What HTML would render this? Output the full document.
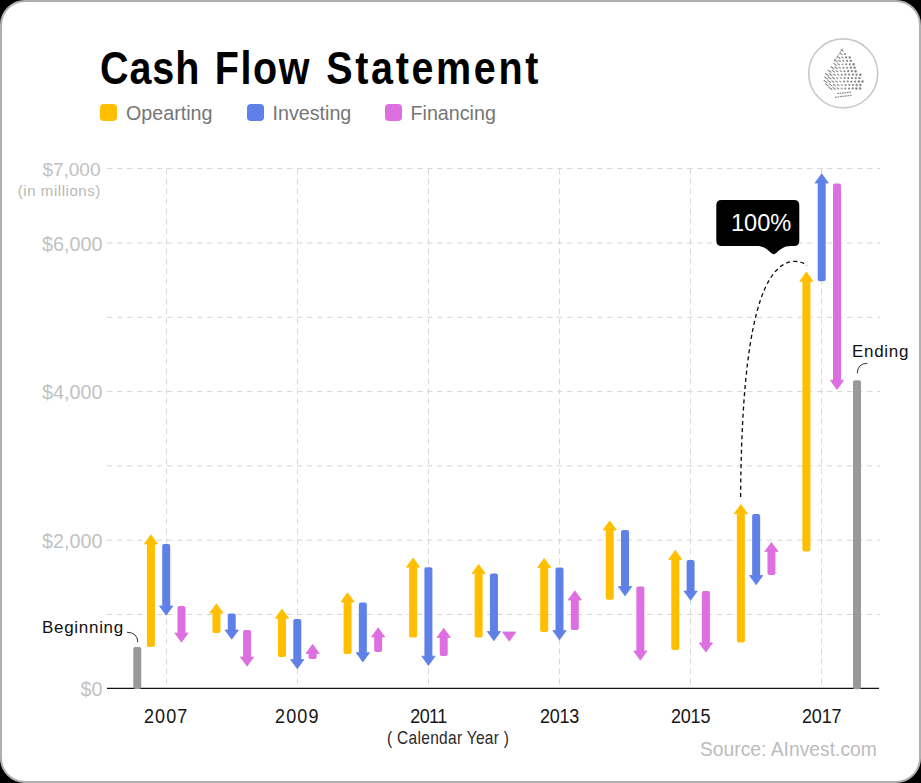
<!DOCTYPE html>
<html><head><meta charset="utf-8">
<style>
html,body{margin:0;padding:0;background:#000;}
body{width:921px;height:783px;position:relative;overflow:hidden;font-family:"Liberation Sans",sans-serif;}
.card{position:absolute;left:0;top:0;width:917px;height:779px;background:#fff;border:2px solid #b0b0b0;border-radius:25px;}
.abs{position:absolute;white-space:nowrap;line-height:1;}
svg{position:absolute;left:0;top:0;}
.title{left:100px;top:45.3px;font-size:39.5px;font-weight:bold;color:#000;letter-spacing:2.1px;transform:scaleY(1.17);transform-origin:0 0;}
.lg{position:absolute;top:103.8px;width:17.5px;height:17.3px;border-radius:4px;}
.lt{top:103.8px;font-size:19.7px;color:#767676;}
.ylab{font-size:19.8px;color:#c2c2c2;text-align:right;width:102.5px;}
.yr{position:absolute;top:705.5px;width:80px;text-align:center;font-size:18px;letter-spacing:-0.2px;color:#161616;line-height:1;transform:scaleY(1.15);transform-origin:0 0;}
</style></head><body>
<div class="card"></div>
<svg width="921" height="783" viewBox="0 0 921 783">
<line x1="107" y1="168.6" x2="880" y2="168.6" stroke="#d6d6d6" stroke-width="1" stroke-dasharray="5.5 4.5"/>
<line x1="107" y1="243.0" x2="880" y2="243.0" stroke="#d6d6d6" stroke-width="1" stroke-dasharray="5.5 4.5"/>
<line x1="107" y1="317.3" x2="880" y2="317.3" stroke="#d6d6d6" stroke-width="1" stroke-dasharray="5.5 4.5"/>
<line x1="107" y1="391.6" x2="880" y2="391.6" stroke="#d6d6d6" stroke-width="1" stroke-dasharray="5.5 4.5"/>
<line x1="107" y1="465.8" x2="880" y2="465.8" stroke="#d6d6d6" stroke-width="1" stroke-dasharray="5.5 4.5"/>
<line x1="107" y1="540.2" x2="880" y2="540.2" stroke="#d6d6d6" stroke-width="1" stroke-dasharray="5.5 4.5"/>
<line x1="107" y1="614.5" x2="880" y2="614.5" stroke="#d6d6d6" stroke-width="1" stroke-dasharray="5.5 4.5"/>
<line x1="166.50" y1="168.5" x2="166.50" y2="688" stroke="#d9d9d9" stroke-width="1" stroke-dasharray="6 4"/>
<line x1="297.50" y1="168.5" x2="297.50" y2="688" stroke="#d9d9d9" stroke-width="1" stroke-dasharray="6 4"/>
<line x1="428.50" y1="168.5" x2="428.50" y2="688" stroke="#d9d9d9" stroke-width="1" stroke-dasharray="6 4"/>
<line x1="559.50" y1="168.5" x2="559.50" y2="688" stroke="#d9d9d9" stroke-width="1" stroke-dasharray="6 4"/>
<line x1="690.50" y1="168.5" x2="690.50" y2="688" stroke="#d9d9d9" stroke-width="1" stroke-dasharray="6 4"/>
<line x1="821.50" y1="168.5" x2="821.50" y2="688" stroke="#d9d9d9" stroke-width="1" stroke-dasharray="6 4"/>
<line x1="107" y1="688.4" x2="879" y2="688.4" stroke="#111" stroke-width="1.4"/>
<rect x="133.3" y="647" width="8" height="42" rx="2" fill="#999999"/>
<rect x="853" y="380.2" width="8" height="309" rx="2" fill="#999999"/>
<rect x="146.90" y="543.00" width="8" height="104.00" rx="2" fill="#FFBF00"/>
<path d="M144.25,544.00 L157.55,544.00 L150.90,534.80 Z" fill="#FFBF00" stroke="#FFBF00" stroke-width="0.8" stroke-linejoin="round"/>
<rect x="162.20" y="544.00" width="8" height="63.00" rx="2" fill="#5F80E6"/>
<path d="M159.55,606.00 L172.85,606.00 L166.20,615.20 Z" fill="#5F80E6" stroke="#5F80E6" stroke-width="0.8" stroke-linejoin="round"/>
<rect x="177.50" y="606.00" width="8" height="28.00" rx="2" fill="#DD6FE0"/>
<path d="M174.85,633.00 L188.15,633.00 L181.50,642.20 Z" fill="#DD6FE0" stroke="#DD6FE0" stroke-width="0.8" stroke-linejoin="round"/>
<rect x="212.45" y="612.00" width="8" height="21.00" rx="2" fill="#FFBF00"/>
<path d="M209.80,613.00 L223.10,613.00 L216.45,603.80 Z" fill="#FFBF00" stroke="#FFBF00" stroke-width="0.8" stroke-linejoin="round"/>
<rect x="227.75" y="613.60" width="8" height="17.40" rx="2" fill="#5F80E6"/>
<path d="M225.10,630.00 L238.40,630.00 L231.75,639.20 Z" fill="#5F80E6" stroke="#5F80E6" stroke-width="0.8" stroke-linejoin="round"/>
<rect x="243.05" y="630.00" width="8" height="28.00" rx="2" fill="#DD6FE0"/>
<path d="M240.40,657.00 L253.70,657.00 L247.05,666.20 Z" fill="#DD6FE0" stroke="#DD6FE0" stroke-width="0.8" stroke-linejoin="round"/>
<rect x="278.00" y="617.30" width="8" height="39.70" rx="2" fill="#FFBF00"/>
<path d="M275.35,618.30 L288.65,618.30 L282.00,609.10 Z" fill="#FFBF00" stroke="#FFBF00" stroke-width="0.8" stroke-linejoin="round"/>
<rect x="293.30" y="619.00" width="8" height="41.60" rx="2" fill="#5F80E6"/>
<path d="M290.65,659.60 L303.95,659.60 L297.30,668.80 Z" fill="#5F80E6" stroke="#5F80E6" stroke-width="0.8" stroke-linejoin="round"/>
<rect x="308.60" y="652.50" width="8" height="6.50" rx="2" fill="#DD6FE0"/>
<path d="M305.95,653.50 L319.25,653.50 L312.60,644.30 Z" fill="#DD6FE0" stroke="#DD6FE0" stroke-width="0.8" stroke-linejoin="round"/>
<rect x="343.55" y="601.00" width="8" height="53.00" rx="2" fill="#FFBF00"/>
<path d="M340.90,602.00 L354.20,602.00 L347.55,592.80 Z" fill="#FFBF00" stroke="#FFBF00" stroke-width="0.8" stroke-linejoin="round"/>
<rect x="358.85" y="602.50" width="8" height="51.20" rx="2" fill="#5F80E6"/>
<path d="M356.20,652.70 L369.50,652.70 L362.85,661.90 Z" fill="#5F80E6" stroke="#5F80E6" stroke-width="0.8" stroke-linejoin="round"/>
<rect x="374.15" y="636.00" width="8" height="16.00" rx="2" fill="#DD6FE0"/>
<path d="M371.50,637.00 L384.80,637.00 L378.15,627.80 Z" fill="#DD6FE0" stroke="#DD6FE0" stroke-width="0.8" stroke-linejoin="round"/>
<rect x="409.10" y="566.20" width="8" height="71.20" rx="2" fill="#FFBF00"/>
<path d="M406.45,567.20 L419.75,567.20 L413.10,558.00 Z" fill="#FFBF00" stroke="#FFBF00" stroke-width="0.8" stroke-linejoin="round"/>
<rect x="424.40" y="567.20" width="8" height="90.00" rx="2" fill="#5F80E6"/>
<path d="M421.75,656.20 L435.05,656.20 L428.40,665.40 Z" fill="#5F80E6" stroke="#5F80E6" stroke-width="0.8" stroke-linejoin="round"/>
<rect x="439.70" y="636.40" width="8" height="19.60" rx="2" fill="#DD6FE0"/>
<path d="M437.05,637.40 L450.35,637.40 L443.70,628.20 Z" fill="#DD6FE0" stroke="#DD6FE0" stroke-width="0.8" stroke-linejoin="round"/>
<rect x="474.65" y="572.60" width="8" height="65.00" rx="2" fill="#FFBF00"/>
<path d="M472.00,573.60 L485.30,573.60 L478.65,564.40 Z" fill="#FFBF00" stroke="#FFBF00" stroke-width="0.8" stroke-linejoin="round"/>
<rect x="489.95" y="573.60" width="8" height="58.90" rx="2" fill="#5F80E6"/>
<path d="M487.30,631.50 L500.60,631.50 L493.95,640.70 Z" fill="#5F80E6" stroke="#5F80E6" stroke-width="0.8" stroke-linejoin="round"/>
<path d="M502.60,632.00 L515.90,632.00 L509.25,641.20 Z" fill="#DD6FE0" stroke="#DD6FE0" stroke-width="0.8" stroke-linejoin="round"/>
<rect x="540.20" y="566.60" width="8" height="65.40" rx="2" fill="#FFBF00"/>
<path d="M537.55,567.60 L550.85,567.60 L544.20,558.40 Z" fill="#FFBF00" stroke="#FFBF00" stroke-width="0.8" stroke-linejoin="round"/>
<rect x="555.50" y="567.60" width="8" height="64.00" rx="2" fill="#5F80E6"/>
<path d="M552.85,630.60 L566.15,630.60 L559.50,639.80 Z" fill="#5F80E6" stroke="#5F80E6" stroke-width="0.8" stroke-linejoin="round"/>
<rect x="570.80" y="599.00" width="8" height="31.00" rx="2" fill="#DD6FE0"/>
<path d="M568.15,600.00 L581.45,600.00 L574.80,590.80 Z" fill="#DD6FE0" stroke="#DD6FE0" stroke-width="0.8" stroke-linejoin="round"/>
<rect x="605.75" y="529.00" width="8" height="70.70" rx="2" fill="#FFBF00"/>
<path d="M603.10,530.00 L616.40,530.00 L609.75,520.80 Z" fill="#FFBF00" stroke="#FFBF00" stroke-width="0.8" stroke-linejoin="round"/>
<rect x="621.05" y="530.00" width="8" height="57.60" rx="2" fill="#5F80E6"/>
<path d="M618.40,586.60 L631.70,586.60 L625.05,595.80 Z" fill="#5F80E6" stroke="#5F80E6" stroke-width="0.8" stroke-linejoin="round"/>
<rect x="636.35" y="586.60" width="8" height="65.40" rx="2" fill="#DD6FE0"/>
<path d="M633.70,651.00 L647.00,651.00 L640.35,660.20 Z" fill="#DD6FE0" stroke="#DD6FE0" stroke-width="0.8" stroke-linejoin="round"/>
<rect x="671.30" y="558.40" width="8" height="91.60" rx="2" fill="#FFBF00"/>
<path d="M668.65,559.40 L681.95,559.40 L675.30,550.20 Z" fill="#FFBF00" stroke="#FFBF00" stroke-width="0.8" stroke-linejoin="round"/>
<rect x="686.60" y="560.00" width="8" height="32.10" rx="2" fill="#5F80E6"/>
<path d="M683.95,591.10 L697.25,591.10 L690.60,600.30 Z" fill="#5F80E6" stroke="#5F80E6" stroke-width="0.8" stroke-linejoin="round"/>
<rect x="701.90" y="591.10" width="8" height="52.80" rx="2" fill="#DD6FE0"/>
<path d="M699.25,642.90 L712.55,642.90 L705.90,652.10 Z" fill="#DD6FE0" stroke="#DD6FE0" stroke-width="0.8" stroke-linejoin="round"/>
<rect x="736.85" y="512.70" width="8" height="129.90" rx="2" fill="#FFBF00"/>
<path d="M734.20,513.70 L747.50,513.70 L740.85,504.50 Z" fill="#FFBF00" stroke="#FFBF00" stroke-width="0.8" stroke-linejoin="round"/>
<rect x="752.15" y="514.00" width="8" height="62.50" rx="2" fill="#5F80E6"/>
<path d="M749.50,575.50 L762.80,575.50 L756.15,584.70 Z" fill="#5F80E6" stroke="#5F80E6" stroke-width="0.8" stroke-linejoin="round"/>
<rect x="767.45" y="550.60" width="8" height="24.40" rx="2" fill="#DD6FE0"/>
<path d="M764.80,551.60 L778.10,551.60 L771.45,542.40 Z" fill="#DD6FE0" stroke="#DD6FE0" stroke-width="0.8" stroke-linejoin="round"/>
<rect x="802.40" y="280.20" width="8" height="271.30" rx="2" fill="#FFBF00"/>
<path d="M799.75,281.20 L813.05,281.20 L806.40,272.00 Z" fill="#FFBF00" stroke="#FFBF00" stroke-width="0.8" stroke-linejoin="round"/>
<rect x="817.70" y="182.00" width="8" height="99.20" rx="2" fill="#5F80E6"/>
<path d="M815.05,183.00 L828.35,183.00 L821.70,173.80 Z" fill="#5F80E6" stroke="#5F80E6" stroke-width="0.8" stroke-linejoin="round"/>
<rect x="833.00" y="183.60" width="8" height="197.60" rx="2" fill="#DD6FE0"/>
<path d="M830.35,380.20 L843.65,380.20 L837.00,389.40 Z" fill="#DD6FE0" stroke="#DD6FE0" stroke-width="0.8" stroke-linejoin="round"/>
<path d="M740.6,497 C741.5,360 755,262 795,261.3 Q802,261.5 807,265.5" fill="none" stroke="#111" stroke-width="1.35" stroke-dasharray="4 3.2"/>
<path d="M127,632.2 Q137.5,632.5 137.8,642.2" fill="none" stroke="#333" stroke-width="1"/>
<path d="M857.3,373.3 Q857.5,363.5 867.3,363.3" fill="none" stroke="#333" stroke-width="1"/>
<path d="M721.5,200 H794 Q799.3,200 799.3,205.3 V240.7 Q799.3,246 794,246 H790.5 C784,246 780,249.5 776.5,252.8 Q773.7,255.6 770.9,252.8 C767.4,249.5 763.4,246 757,246 H721.5 Q716.3,246 716.3,240.7 V205.3 Q716.3,200 721.5,200 Z" fill="#000"/>
</svg>
<div class="abs title" style="letter-spacing:0.9px">Cash</div><div class="abs title" style="left:214.8px;letter-spacing:1.57px">Flow</div><div class="abs title" style="left:326.3px;letter-spacing:2.64px">Statement</div>
<div class="lg" style="left:99.6px;background:#FFBF00"></div>
<div class="abs lt" style="left:126px">Opearting</div>
<div class="lg" style="left:246.5px;background:#5F80E6"></div>
<div class="abs lt" style="left:272.5px">Investing</div>
<div class="lg" style="left:384.5px;background:#DD6FE0"></div>
<div class="abs lt" style="left:410.5px">Financing</div>
<div class="abs ylab" style="left:0;top:159.5px;width:100.5px;font-size:19px">$7,000</div>
<div class="abs ylab" style="left:0;top:183px;width:100.8px;font-size:15px;letter-spacing:0.55px;color:#b8b8b8">(in millions)</div>
<div class="abs ylab" style="left:0;top:235px">$6,000</div>
<div class="abs ylab" style="left:0;top:383px">$4,000</div>
<div class="abs ylab" style="left:0;top:532px">$2,000</div>
<div class="abs ylab" style="left:0;top:680px">$0</div>
<div class="yr" style="left:126.2px;letter-spacing:1.1px">2007</div>
<div class="yr" style="left:257.3px;letter-spacing:1.1px">2009</div>
<div class="yr" style="left:388.4px;letter-spacing:-0.6px">2011</div>
<div class="yr" style="left:519.5px;letter-spacing:-0.2px">2013</div>
<div class="yr" style="left:650.6px;letter-spacing:-0.2px">2015</div>
<div class="yr" style="left:781.7px;letter-spacing:-0.2px">2017</div>

<div class="abs" style="left:387px;top:729.3px;font-size:15.5px;letter-spacing:0.3px;color:#2a2a2a;transform:scaleY(1.14);transform-origin:0 0">( Calendar Year )</div>
<div class="abs" style="left:700px;top:740px;font-size:19.3px;color:#bcbcbc">Source: AInvest.com</div>
<div class="abs" style="left:42px;top:619px;font-size:17px;letter-spacing:0.7px;color:#111">Beginning</div>
<div class="abs" style="left:852px;top:343px;font-size:17px;letter-spacing:0.7px;color:#111">Ending</div>
<div class="abs" style="left:731px;top:211.5px;font-size:23.6px;color:#fff">100%</div>
<svg width="921" height="783" viewBox="0 0 921 783" style="pointer-events:none">
<circle cx="843.2" cy="73.4" r="34.5" fill="none" stroke="#c9c9c9" stroke-width="1.6"/>
<line x1="841.10" y1="49.72" x2="843.31" y2="51.28" stroke="#888" stroke-width="1.1" stroke-linecap="round"/>
<line x1="840.31" y1="53.24" x2="842.33" y2="54.66" stroke="#888" stroke-width="1.1" stroke-linecap="round"/>
<circle cx="845.02" cy="53.95" r="1.07" fill="#888"/>
<line x1="837.31" y1="56.48" x2="839.95" y2="58.32" stroke="#888" stroke-width="1.1" stroke-linecap="round"/>
<line x1="841.75" y1="56.99" x2="842.91" y2="57.81" stroke="#888" stroke-width="1.1" stroke-linecap="round"/>
<circle cx="846.03" cy="57.40" r="1.08" fill="#888"/>
<circle cx="849.73" cy="57.40" r="1.21" fill="#888"/>
<line x1="834.47" y1="59.82" x2="837.42" y2="61.88" stroke="#888" stroke-width="1.1" stroke-linecap="round"/>
<line x1="838.73" y1="60.21" x2="840.56" y2="61.49" stroke="#888" stroke-width="1.1" stroke-linecap="round"/>
<circle cx="843.34" cy="60.85" r="0.99" fill="#888"/>
<circle cx="847.04" cy="60.85" r="1.09" fill="#888"/>
<circle cx="850.74" cy="60.85" r="1.19" fill="#888"/>
<line x1="833.71" y1="63.36" x2="836.40" y2="65.24" stroke="#888" stroke-width="1.1" stroke-linecap="round"/>
<line x1="837.87" y1="63.68" x2="839.65" y2="64.92" stroke="#888" stroke-width="1.1" stroke-linecap="round"/>
<line x1="842.02" y1="63.99" x2="842.89" y2="64.61" stroke="#888" stroke-width="1.1" stroke-linecap="round"/>
<circle cx="846.16" cy="64.30" r="1.05" fill="#888"/>
<circle cx="849.86" cy="64.30" r="1.14" fill="#888"/>
<circle cx="853.56" cy="64.30" r="1.22" fill="#888"/>
<line x1="830.93" y1="66.74" x2="833.81" y2="68.76" stroke="#888" stroke-width="1.1" stroke-linecap="round"/>
<line x1="835.01" y1="67.01" x2="837.13" y2="68.49" stroke="#888" stroke-width="1.1" stroke-linecap="round"/>
<line x1="839.09" y1="67.28" x2="840.44" y2="68.22" stroke="#888" stroke-width="1.1" stroke-linecap="round"/>
<circle cx="843.47" cy="67.75" r="1.00" fill="#888"/>
<circle cx="847.17" cy="67.75" r="1.07" fill="#888"/>
<circle cx="850.87" cy="67.75" r="1.14" fill="#888"/>
<circle cx="854.57" cy="67.75" r="1.21" fill="#888"/>
<line x1="828.17" y1="70.14" x2="831.19" y2="72.26" stroke="#888" stroke-width="1.1" stroke-linecap="round"/>
<line x1="832.20" y1="70.37" x2="834.56" y2="72.03" stroke="#888" stroke-width="1.1" stroke-linecap="round"/>
<line x1="836.23" y1="70.61" x2="837.93" y2="71.79" stroke="#888" stroke-width="1.1" stroke-linecap="round"/>
<line x1="840.27" y1="70.84" x2="841.30" y2="71.56" stroke="#888" stroke-width="1.1" stroke-linecap="round"/>
<circle cx="844.48" cy="71.20" r="1.02" fill="#888"/>
<circle cx="848.18" cy="71.20" r="1.08" fill="#888"/>
<circle cx="851.88" cy="71.20" r="1.14" fill="#888"/>
<circle cx="855.58" cy="71.20" r="1.20" fill="#888"/>
<line x1="825.43" y1="73.55" x2="828.56" y2="75.75" stroke="#888" stroke-width="1.1" stroke-linecap="round"/>
<line x1="829.42" y1="73.76" x2="831.97" y2="75.54" stroke="#888" stroke-width="1.1" stroke-linecap="round"/>
<line x1="833.42" y1="73.97" x2="835.37" y2="75.33" stroke="#888" stroke-width="1.1" stroke-linecap="round"/>
<line x1="837.41" y1="74.17" x2="838.78" y2="75.13" stroke="#888" stroke-width="1.1" stroke-linecap="round"/>
<circle cx="841.79" cy="74.65" r="0.98" fill="#888"/>
<circle cx="845.49" cy="74.65" r="1.03" fill="#888"/>
<circle cx="849.19" cy="74.65" r="1.09" fill="#888"/>
<circle cx="852.89" cy="74.65" r="1.14" fill="#888"/>
<circle cx="856.59" cy="74.65" r="1.19" fill="#888"/>
<circle cx="860.29" cy="74.65" r="1.25" fill="#888"/>
<line x1="824.63" y1="77.06" x2="827.59" y2="79.14" stroke="#888" stroke-width="1.1" stroke-linecap="round"/>
<line x1="828.59" y1="77.25" x2="831.02" y2="78.95" stroke="#888" stroke-width="1.1" stroke-linecap="round"/>
<line x1="832.55" y1="77.43" x2="834.46" y2="78.77" stroke="#888" stroke-width="1.1" stroke-linecap="round"/>
<line x1="836.52" y1="77.62" x2="837.89" y2="78.58" stroke="#888" stroke-width="1.1" stroke-linecap="round"/>
<line x1="840.48" y1="77.80" x2="841.33" y2="78.40" stroke="#888" stroke-width="1.1" stroke-linecap="round"/>
<circle cx="844.61" cy="78.10" r="1.02" fill="#888"/>
<circle cx="848.31" cy="78.10" r="1.07" fill="#888"/>
<circle cx="852.01" cy="78.10" r="1.12" fill="#888"/>
<circle cx="855.71" cy="78.10" r="1.17" fill="#888"/>
<circle cx="859.41" cy="78.10" r="1.21" fill="#888"/>
<line x1="824.01" y1="80.48" x2="827.05" y2="82.62" stroke="#888" stroke-width="1.1" stroke-linecap="round"/>
<line x1="827.96" y1="80.66" x2="830.50" y2="82.44" stroke="#888" stroke-width="1.1" stroke-linecap="round"/>
<line x1="831.92" y1="80.84" x2="833.94" y2="82.26" stroke="#888" stroke-width="1.1" stroke-linecap="round"/>
<line x1="835.87" y1="81.02" x2="837.39" y2="82.08" stroke="#888" stroke-width="1.1" stroke-linecap="round"/>
<line x1="839.83" y1="81.20" x2="840.83" y2="81.90" stroke="#888" stroke-width="1.1" stroke-linecap="round"/>
<circle cx="844.03" cy="81.55" r="1.00" fill="#888"/>
<circle cx="847.73" cy="81.55" r="1.05" fill="#888"/>
<circle cx="851.43" cy="81.55" r="1.10" fill="#888"/>
<circle cx="855.13" cy="81.55" r="1.14" fill="#888"/>
<circle cx="858.83" cy="81.55" r="1.19" fill="#888"/>
<circle cx="862.53" cy="81.55" r="1.24" fill="#888"/>
<line x1="825.55" y1="83.92" x2="828.65" y2="86.08" stroke="#888" stroke-width="1.1" stroke-linecap="round"/>
<line x1="829.52" y1="84.11" x2="832.08" y2="85.89" stroke="#888" stroke-width="1.1" stroke-linecap="round"/>
<line x1="833.50" y1="84.30" x2="835.50" y2="85.70" stroke="#888" stroke-width="1.1" stroke-linecap="round"/>
<line x1="837.47" y1="84.49" x2="838.93" y2="85.51" stroke="#888" stroke-width="1.1" stroke-linecap="round"/>
<line x1="841.45" y1="84.68" x2="842.35" y2="85.32" stroke="#888" stroke-width="1.1" stroke-linecap="round"/>
<circle cx="845.60" cy="85.00" r="1.02" fill="#888"/>
<circle cx="849.30" cy="85.00" r="1.07" fill="#888"/>
<circle cx="853.00" cy="85.00" r="1.12" fill="#888"/>
<circle cx="856.70" cy="85.00" r="1.17" fill="#888"/>
<circle cx="860.40" cy="85.00" r="1.22" fill="#888"/>
<line x1="829.04" y1="87.45" x2="831.90" y2="89.45" stroke="#888" stroke-width="1.1" stroke-linecap="round"/>
<line x1="833.04" y1="87.66" x2="835.30" y2="89.24" stroke="#888" stroke-width="1.1" stroke-linecap="round"/>
<line x1="837.05" y1="87.88" x2="838.69" y2="89.02" stroke="#888" stroke-width="1.1" stroke-linecap="round"/>
<line x1="841.06" y1="88.09" x2="842.08" y2="88.81" stroke="#888" stroke-width="1.1" stroke-linecap="round"/>
<circle cx="845.27" cy="88.45" r="1.01" fill="#888"/>
<circle cx="848.97" cy="88.45" r="1.07" fill="#888"/>
<circle cx="852.67" cy="88.45" r="1.12" fill="#888"/>
<circle cx="856.37" cy="88.45" r="1.18" fill="#888"/>
<circle cx="860.07" cy="88.45" r="1.24" fill="#888"/>
<line x1="842.6" y1="48.3" x2="834" y2="62" stroke="#9a9a9a" stroke-width="0.8"/>
<path d="M837,93.5 L851,92.2" stroke="#8c8c8c" stroke-width="1.2" fill="none" stroke-dasharray="1.8 0.7"/>
<path d="M835,97.3 L852,95.2" stroke="#8c8c8c" stroke-width="1.2" fill="none" stroke-dasharray="1.8 0.7"/>
</svg>
</body></html>
